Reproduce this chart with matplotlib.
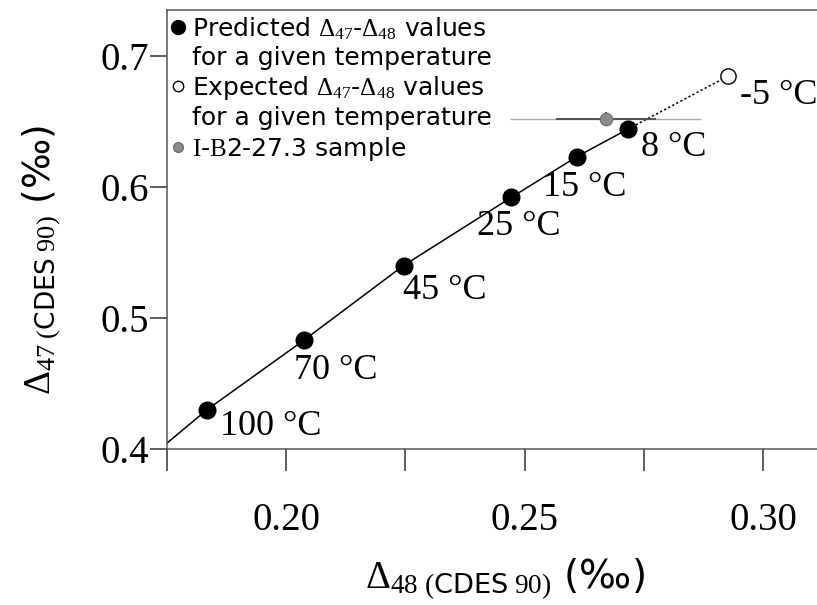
import matplotlib
matplotlib.use('Agg')
import matplotlib.pyplot as plt
from matplotlib.lines import Line2D

plt.rcParams['font.family'] = ['DejaVu Sans']
plt.rcParams['mathtext.fontset'] = 'custom'
plt.rcParams['mathtext.rm'] = 'Liberation Serif'
plt.rcParams['mathtext.it'] = 'Liberation Serif:italic'
plt.rcParams['mathtext.sf'] = 'DejaVu Sans'

# Valores previstos (curva de calibração)
temperaturas = ['100', '70', '45', '25', '15', '8']
d48_previsto = [0.1834, 0.2037, 0.2246, 0.2472, 0.2609, 0.2716]
d47_previsto = [0.430, 0.483, 0.540, 0.592, 0.623, 0.644]

# Início da curva na borda do eixo
d48_inicio = 0.175
d47_inicio = 0.4045

# Valor esperado
temp_esperado = '-5'
d48_esperado = 0.2926
d47_esperado = 0.6845

# Amostra I-B2-27.3
d48_amostra = 0.267
d47_amostra = 0.652
erro_interno = 0.0105
erro_externo = 0.020
erro_d47 = 0.005

fig = plt.figure(figsize=(8.17, 6.05), dpi=100)
ax = fig.add_axes([167 / 817, 1 - 449 / 605, 1 - 167 / 817, 439 / 605])

# Curva prevista
ax.plot([d48_inicio] + d48_previsto, [d47_inicio] + d47_previsto,
        color='black', lw=1.1, zorder=2)
ax.plot([d48_previsto[-1], d48_esperado], [d47_previsto[-1], d47_esperado],
        color='black', lw=1.1, linestyle=(0, (1.5, 1.5)), zorder=2)

# Barras de erro da amostra
ax.errorbar(d48_amostra, d47_amostra, xerr=erro_externo, fmt='none',
            ecolor='#a8a8a8', elinewidth=1.0, capsize=0, zorder=3)
ax.errorbar(d48_amostra, d47_amostra, xerr=erro_interno, yerr=erro_d47,
            fmt='none', ecolor='#505050', elinewidth=1.4, capsize=0, zorder=3)

ax.plot(d48_previsto, d47_previsto, 'o', color='black', ms=12, zorder=4)
ax.plot(d48_esperado, d47_esperado, 'o', mfc='white', mec='black',
        mew=1.0, ms=11, zorder=4)
ax.plot(d48_amostra, d47_amostra, 'o', mfc='#8c8c8c', mec='#6e6e6e',
        mew=0.8, ms=9, zorder=5)

# Rótulos de temperatura (deslocamento em pixels)
deslocamentos = [(13, -17), (-10, -30), (-1, -25), (-34, -29),
                 (-34, -31), (13, -18), (12, -19)]
rotulos = temperaturas + [temp_esperado]
xs = d48_previsto + [d48_esperado]
ys = d47_previsto + [d47_esperado]
for t, x, y, d in zip(rotulos, xs, ys, deslocamentos):
    ax.annotate(t + ' °C', (x, y), xytext=d, textcoords='offset pixels',
                ha='left', va='center', fontsize=26,
                family='Liberation Serif', zorder=6)

ax.set_xlim(0.175, 0.3113)
ax.set_ylim(0.4, 0.735)

ax.set_xticks([0.20, 0.25, 0.30])
ax.set_xticklabels(['0.20', '0.25', '0.30'])
ax.set_xticks([0.175, 0.225, 0.275], minor=True)
ax.set_yticks([0.4, 0.5, 0.6, 0.7])
ax.set_yticklabels(['0.4', '0.5', '0.6', '0.7'])

for lbl in ax.get_xticklabels() + ax.get_yticklabels():
    lbl.set_family('Liberation Serif')
    lbl.set_fontsize(28)

ax.tick_params(axis='x', which='both', direction='out', length=16,
               width=1.1, color='#333333', pad=22)
ax.tick_params(axis='y', which='both', direction='out', length=12,
               width=1.1, color='#333333', pad=1)

ax.spines['right'].set_visible(False)
for s in ['left', 'bottom', 'top']:
    ax.spines[s].set_color('#555555')
    ax.spines[s].set_linewidth(1.1)

ax.set_xlabel(r'$\Delta_{48\ (\mathsf{CDES}\ 90)}$ (‰)', fontsize=28)
ax.set_ylabel(r'$\Delta_{47\ (\mathsf{CDES}\ 90)}$ (‰)', fontsize=27)
ax.xaxis.set_label_coords(0.52, -0.245)
ax.yaxis.set_label_coords(-0.162, 0.43)

# Legenda
handles = [
    Line2D([], [], marker='o', color='black', ls='none', ms=10),
    Line2D([], [], ls='none'),
    Line2D([], [], marker='o', mfc='white', mec='black', ls='none', ms=7.5),
    Line2D([], [], ls='none'),
    Line2D([], [], marker='o', mfc='#8c8c8c', mec='#6e6e6e', ls='none', ms=7),
]
labels = [
    r'Predicted $\Delta_{47}$-$\Delta_{48}$ values',
    'for a given temperature',
    r'Expected $\Delta_{47}$-$\Delta_{48}$ values',
    'for a given temperature',
    r'$\mathrm{I}$-$\mathrm{B}$2-27.3 sample',
]
ax.legend(handles, labels, loc='upper left', frameon=False, fontsize=18,
          handlelength=0.5, handletextpad=0.3, labelspacing=0.17,
          borderaxespad=0.1, borderpad=0.1)

fig.savefig('out.png', dpi=100)
